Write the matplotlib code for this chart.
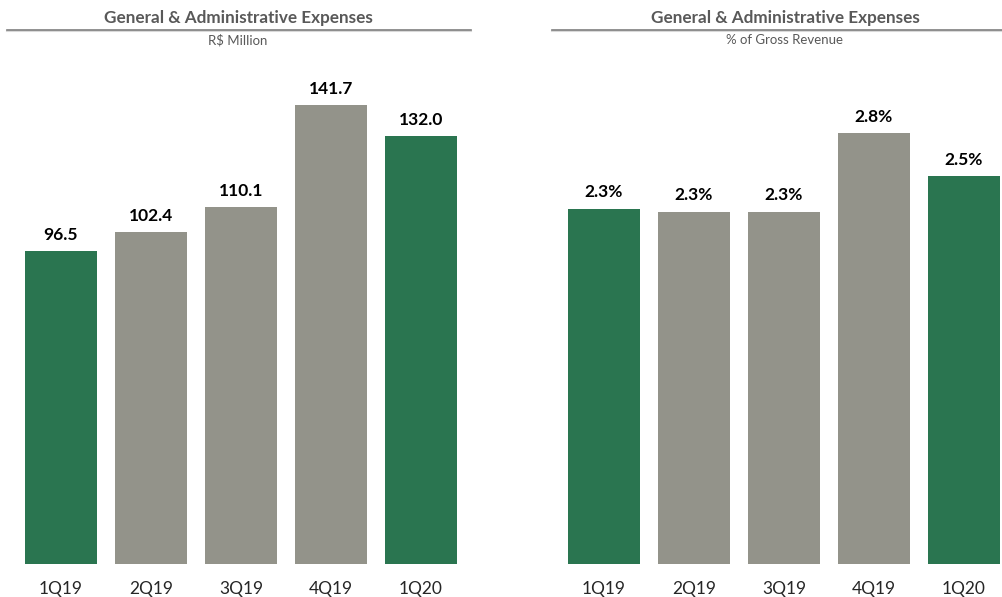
import matplotlib.pyplot as plt
from matplotlib.lines import Line2D

plt.rcParams['font.family'] = ['Lato', 'DejaVu Sans']

quarters = ['1Q19', '2Q19', '3Q19', '4Q19', '1Q20']
ga_million = [96.5, 102.4, 110.1, 141.7, 132.0]
ga_pct_revenue = [2.31, 2.29, 2.29, 2.80, 2.52]

GREEN = '#2a7550'
GRAY = '#93938a'
TXT = '#595959'
bar_colors = [GREEN, GRAY, GRAY, GRAY, GREEN]

W, H = 1003, 597
fig = plt.figure(figsize=(W / 100, H / 100), dpi=100)


def px_box(left, top, width, height):
    # pixel box (from top-left) -> figure fraction rect
    return [left / W, 1 - (top + height) / H, width / W, height / H]


def draw_panel(rect, values, ymax, fmt):
    ax = fig.add_axes(rect)
    x = range(len(values))
    bars = ax.bar(x, values, width=0.8, color=bar_colors)
    for b, v in zip(bars, values):
        ax.annotate(fmt.format(v), (b.get_x() + b.get_width() / 2, v),
                    xytext=(0, 6), textcoords='offset points',
                    ha='center', va='bottom', fontsize=12.5,
                    fontweight='bold', color='black')
    ax.set_xlim(-0.5, len(values) - 0.5)
    ax.set_ylim(0, ymax)
    ax.set_xticks(list(x))
    ax.set_xticklabels(quarters, fontsize=12.5, color='#262626')
    ax.tick_params(axis='x', length=0, pad=12)
    ax.set_yticks([])
    for s in ax.spines.values():
        s.set_visible(False)
    return ax


draw_panel(px_box(16, 60, 450, 504), ga_million, 155.6, '{:.1f}')
draw_panel(px_box(559, 60, 450, 504), ga_pct_revenue, 3.275, '{:.1f}%')


def header(x0, x1, cx, title, subtitle):
    fig.text(cx / W, 1 - 18 / H, title, ha='center', va='center',
             fontsize=12.3, fontweight='bold', color=TXT)
    fig.text(cx / W, 1 - 40 / H, subtitle, ha='center', va='center',
             fontsize=9.5, color=TXT)
    # faint shadow under the rule
    fig.add_artist(Line2D([x0 / W, x1 / W], [1 - 31 / H] * 2,
                          color='#d9d9d9', lw=1.5))
    fig.add_artist(Line2D([x0 / W, x1 / W], [1 - 29.5 / H] * 2,
                          color='#7f7f7f', lw=1.2))


header(7, 471, 238, 'General & Administrative Expenses', 'R$ Million')
header(552, 1018, 785, 'General & Administrative Expenses', '% of Gross Revenue')

fig.savefig('out.png', dpi=100)
